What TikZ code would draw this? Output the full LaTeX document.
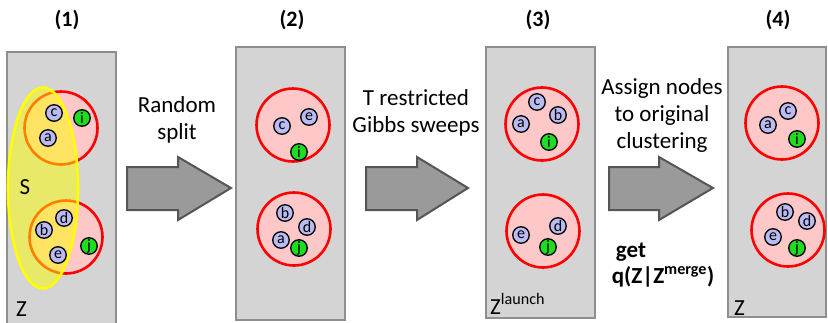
\documentclass[tikz,border=0pt]{standalone}
\usepackage{fontspec}
\setmainfont{Carlito}
\usetikzlibrary{shapes.geometric}
\definecolor{panelfill}{HTML}{D4D4D4}
\definecolor{panelborder}{HTML}{8E8E8E}
\definecolor{clusterfill}{HTML}{FFC8C8}
\definecolor{itemfill}{HTML}{BBBBF4}
\definecolor{greenfill}{HTML}{1EDC1E}
\definecolor{arrowfill}{HTML}{9A9A9A}
\definecolor{arrowborder}{HTML}{555555}
\definecolor{selyellow}{HTML}{FFFF00}
\begin{document}
\begin{tikzpicture}[x=1pt,y=-1pt,
 panel/.style={draw=panelborder, fill=panelfill, line width=2pt, rectangle, inner sep=0pt},
 cluster/.style={circle, draw=red, fill=clusterfill, line width=2.6pt, minimum size=73pt, inner sep=0pt},
 item/.style={circle, draw=black, fill=itemfill, line width=1.3pt, minimum size=16.5pt, inner sep=0pt, font=\fontsize{16}{16}\selectfont},
 gitem/.style={item, fill=greenfill},
 bigarrow/.style={draw=arrowborder, fill=arrowfill, line width=2pt, line join=miter},
 lbl/.style={font=\fontsize{23}{27}\selectfont, align=center, inner sep=0pt},
 num/.style={font=\bfseries\fontsize{22}{26}\selectfont, inner sep=0pt},
 zlbl/.style={font=\fontsize{23}{27}\selectfont, inner sep=0pt, anchor=base west},
]
\useasboundingbox (0,0) rectangle (828,322);

% panels
\node[panel, minimum width=109pt, minimum height=280pt] (p1) at (61.5,192) {};
\node[panel, minimum width=109pt, minimum height=273pt] (p2) at (290.5,183.5) {};
\node[panel, minimum width=109pt, minimum height=271pt] (p3) at (540.5,182.5) {};
\node[panel, minimum width=98pt, minimum height=270pt] (p4) at (777,182) {};

% titles
\node[num] (t1) at (67,20) {(1)};
\node[num] (t2) at (292,20) {(2)};
\node[num] (t3) at (538,20) {(3)};
\node[num] (t4) at (778,20) {(4)};

% clusters
\node[cluster] (A1) at (61,128) {};
\node[cluster] (B1) at (66,237) {};
\node[cluster] (A2) at (293,125) {};
\node[cluster] (B2) at (294,229) {};
\node[cluster] (A3) at (542,124) {};
\node[cluster] (B3) at (543,231) {};
\node[cluster] (A4) at (782,123) {};
\node[cluster] (B4) at (788,230) {};

% selection S
\node[ellipse, draw=selyellow, fill=selyellow, fill opacity=0.5, draw opacity=1, line width=2.6pt,
  minimum width=70pt, minimum height=201pt, inner sep=0pt] (S) at (43,188) {};
\node[zlbl, anchor=center] (slbl) at (25,187) {S};

% items panel 1
\node[item] (c1) at (54,113) {c};
\node[gitem] (i1) at (82,118) {i};
\node[item] (a1) at (48,138) {a};
\node[item] (d1) at (64,218) {d};
\node[item] (b1) at (44,230) {b};
\node[item] (e1) at (58,255) {e};
\node[gitem] (j1) at (89,246) {j};

% items panel 2
\node[item] (c2) at (282,126) {c};
\node[item] (e2) at (309,117) {e};
\node[gitem] (i2) at (299,152) {i};
\node[item] (b2) at (285,213) {b};
\node[item] (d2) at (307,227) {d};
\node[item] (a2) at (281,240) {a};
\node[gitem] (j2) at (299,248) {j};

% items panel 3
\node[item] (c3) at (537,102) {c};
\node[item] (b3) at (558,115) {b};
\node[item] (a3) at (521,124) {a};
\node[gitem] (i3) at (549,142) {i};
\node[item] (d3) at (558,226) {d};
\node[item] (e3) at (521,235) {e};
\node[gitem] (j3) at (548,247) {j};

% items panel 4
\node[item] (c4) at (788,111) {c};
\node[item] (a4) at (768,125) {a};
\node[gitem] (i4) at (797,139) {i};
\node[item] (b4) at (785,212) {b};
\node[item] (d4) at (807,221) {d};
\node[item] (e4) at (773,237) {e};
\node[gitem] (j4) at (797,248) {j};

% Z labels
\node[zlbl] (z1) at (16,316) {Z};
\node[zlbl] (z3) at (490,314) {Z\textsuperscript{launch}};
\node[zlbl] (z4) at (734,315) {Z};

% big arrows
\draw[bigarrow] (127,167) -- (178,167) -- (178,157) -- (231,188) -- (178,220) -- (178,210) -- (127,210) -- cycle;
\draw[bigarrow] (366,167) -- (417,167) -- (417,157) -- (468,188) -- (417,220) -- (417,210) -- (366,210) -- cycle;
\draw[bigarrow] (609,167) -- (659,167) -- (659,157) -- (713,188) -- (659,220) -- (659,210) -- (609,210) -- cycle;

% arrow labels
\node[lbl] (l1) at (177,120) {Random\\split};
\node[lbl] (l2) at (416,113) {T restricted\\Gibbs sweeps};
\node[lbl] (l3) at (662,115) {Assign nodes\\to original\\clustering};
\node[lbl, font=\bfseries\fontsize{23}{27}\selectfont] (l4) at (631,252) {get};
\node[lbl, font=\bfseries\fontsize{23}{27}\selectfont] (l5) at (663,277) {q(Z|Z\textsuperscript{merge})};
\end{tikzpicture}
\end{document}
